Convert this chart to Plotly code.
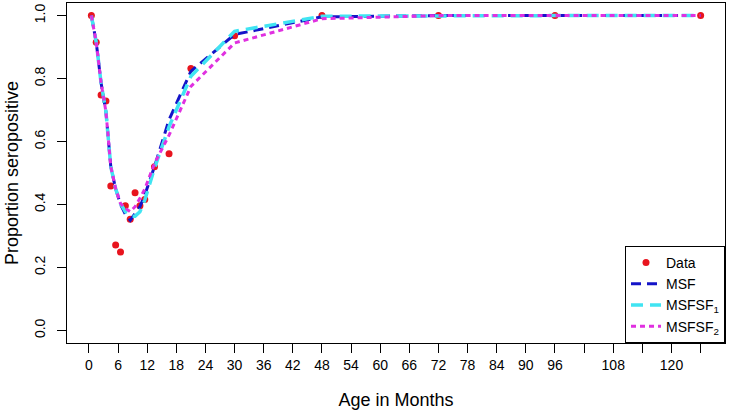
import plotly.graph_objects as go

# Data
age = [0.5, 1.5, 2.5, 3.5, 4.5, 5.5, 6.5, 7.5, 8.5, 9.5, 10.5, 11.5, 13.5, 16.5, 21, 30, 48, 72, 96, 126]
observed = [1.0, 0.915, 0.748, 0.729, 0.459, 0.271, 0.249, 0.396, 0.353, 0.437, 0.396, 0.416,
            0.52, 0.561, 0.832, 0.936, 1.0, 1.0, 1.0, 1.0]
msf = [1.0, 0.915, 0.786, 0.695, 0.52, 0.45, 0.40, 0.369, 0.35, 0.372, 0.393, 0.43,
       0.52, 0.669, 0.823, 0.94, 0.996, 1.0, 1.0, 1.0]
msfsf1 = [1.0, 0.915, 0.786, 0.695, 0.52, 0.45, 0.403, 0.377, 0.363, 0.363, 0.377, 0.414,
          0.515, 0.647, 0.807, 0.95, 0.998, 1.0, 1.0, 1.0]
msfsf2 = [1.0, 0.915, 0.786, 0.695, 0.52, 0.451, 0.403, 0.388, 0.377, 0.393, 0.42, 0.449,
          0.53, 0.62, 0.775, 0.913, 0.99, 1.0, 1.0, 1.0]

x_tickvals = list(range(0, 127, 6))
x_ticktext = [str(v) if (v <= 96 or v in (108, 120)) else "" for v in x_tickvals]
y_tickvals = [0.0, 0.2, 0.4, 0.6, 0.8, 1.0]

fig = go.Figure()
fig.add_trace(go.Scatter(x=age, y=observed, mode="markers", name="Data",
                         marker=dict(color="#E8141E", size=7)))
fig.add_trace(go.Scatter(x=age, y=msf, mode="lines", name="MSF",
                         line=dict(color="#1414C8", width=3, dash="10px,6px")))
fig.add_trace(go.Scatter(x=age, y=msfsf1, mode="lines", name="MSFSF<sub>1</sub>",
                         line=dict(color="#40E4F2", width=3.5, dash="12px,7px")))
fig.add_trace(go.Scatter(x=age, y=msfsf2, mode="lines", name="MSFSF<sub>2</sub>",
                         line=dict(color="#E030E0", width=3, dash="5px,4px")))

span = max(age) - min(age)
fig.update_layout(
    width=730, height=411,
    margin=dict(l=67, r=5, t=3, b=68),
    paper_bgcolor="white", plot_bgcolor="white",
    font=dict(family="Liberation Sans, Arial, sans-serif", color="black", size=14),
    showlegend=True,
    legend=dict(x=1, y=0, xanchor="right", yanchor="bottom", xref="paper", yref="paper",
                bgcolor="white", bordercolor="black", borderwidth=1,
                font=dict(size=14), itemwidth=30, tracegroupgap=0),
    xaxis=dict(range=[min(age) - 0.04 * span, max(age) + 0.04 * span],
               automargin=False,
               tickmode="array", tickvals=x_tickvals, ticktext=x_ticktext,
               ticks="outside", ticklen=9, tickcolor="black", tickwidth=1,
               showline=True, linecolor="black", linewidth=1, mirror=True,
               showgrid=False, zeroline=False,
               tickfont=dict(size=14),
               title=dict(text="Age in Months", font=dict(size=18), standoff=21)),
    yaxis=dict(range=[-0.04, 1.04],
               automargin=False,
               tickmode="array", tickvals=y_tickvals, tickformat=".1f",
               tickangle=-90, ticklabelstandoff=6,
               ticks="outside", ticklen=9, tickcolor="black", tickwidth=1,
               showline=True, linecolor="black", linewidth=1, mirror=True,
               showgrid=False, zeroline=False,
               tickfont=dict(size=14),
               title=dict(text="Proportion seropositive", font=dict(size=18), standoff=9)),
)

fig.write_html("out.html", config={"displayModeBar": False},
               post_script="document.body.style.margin='0';")
